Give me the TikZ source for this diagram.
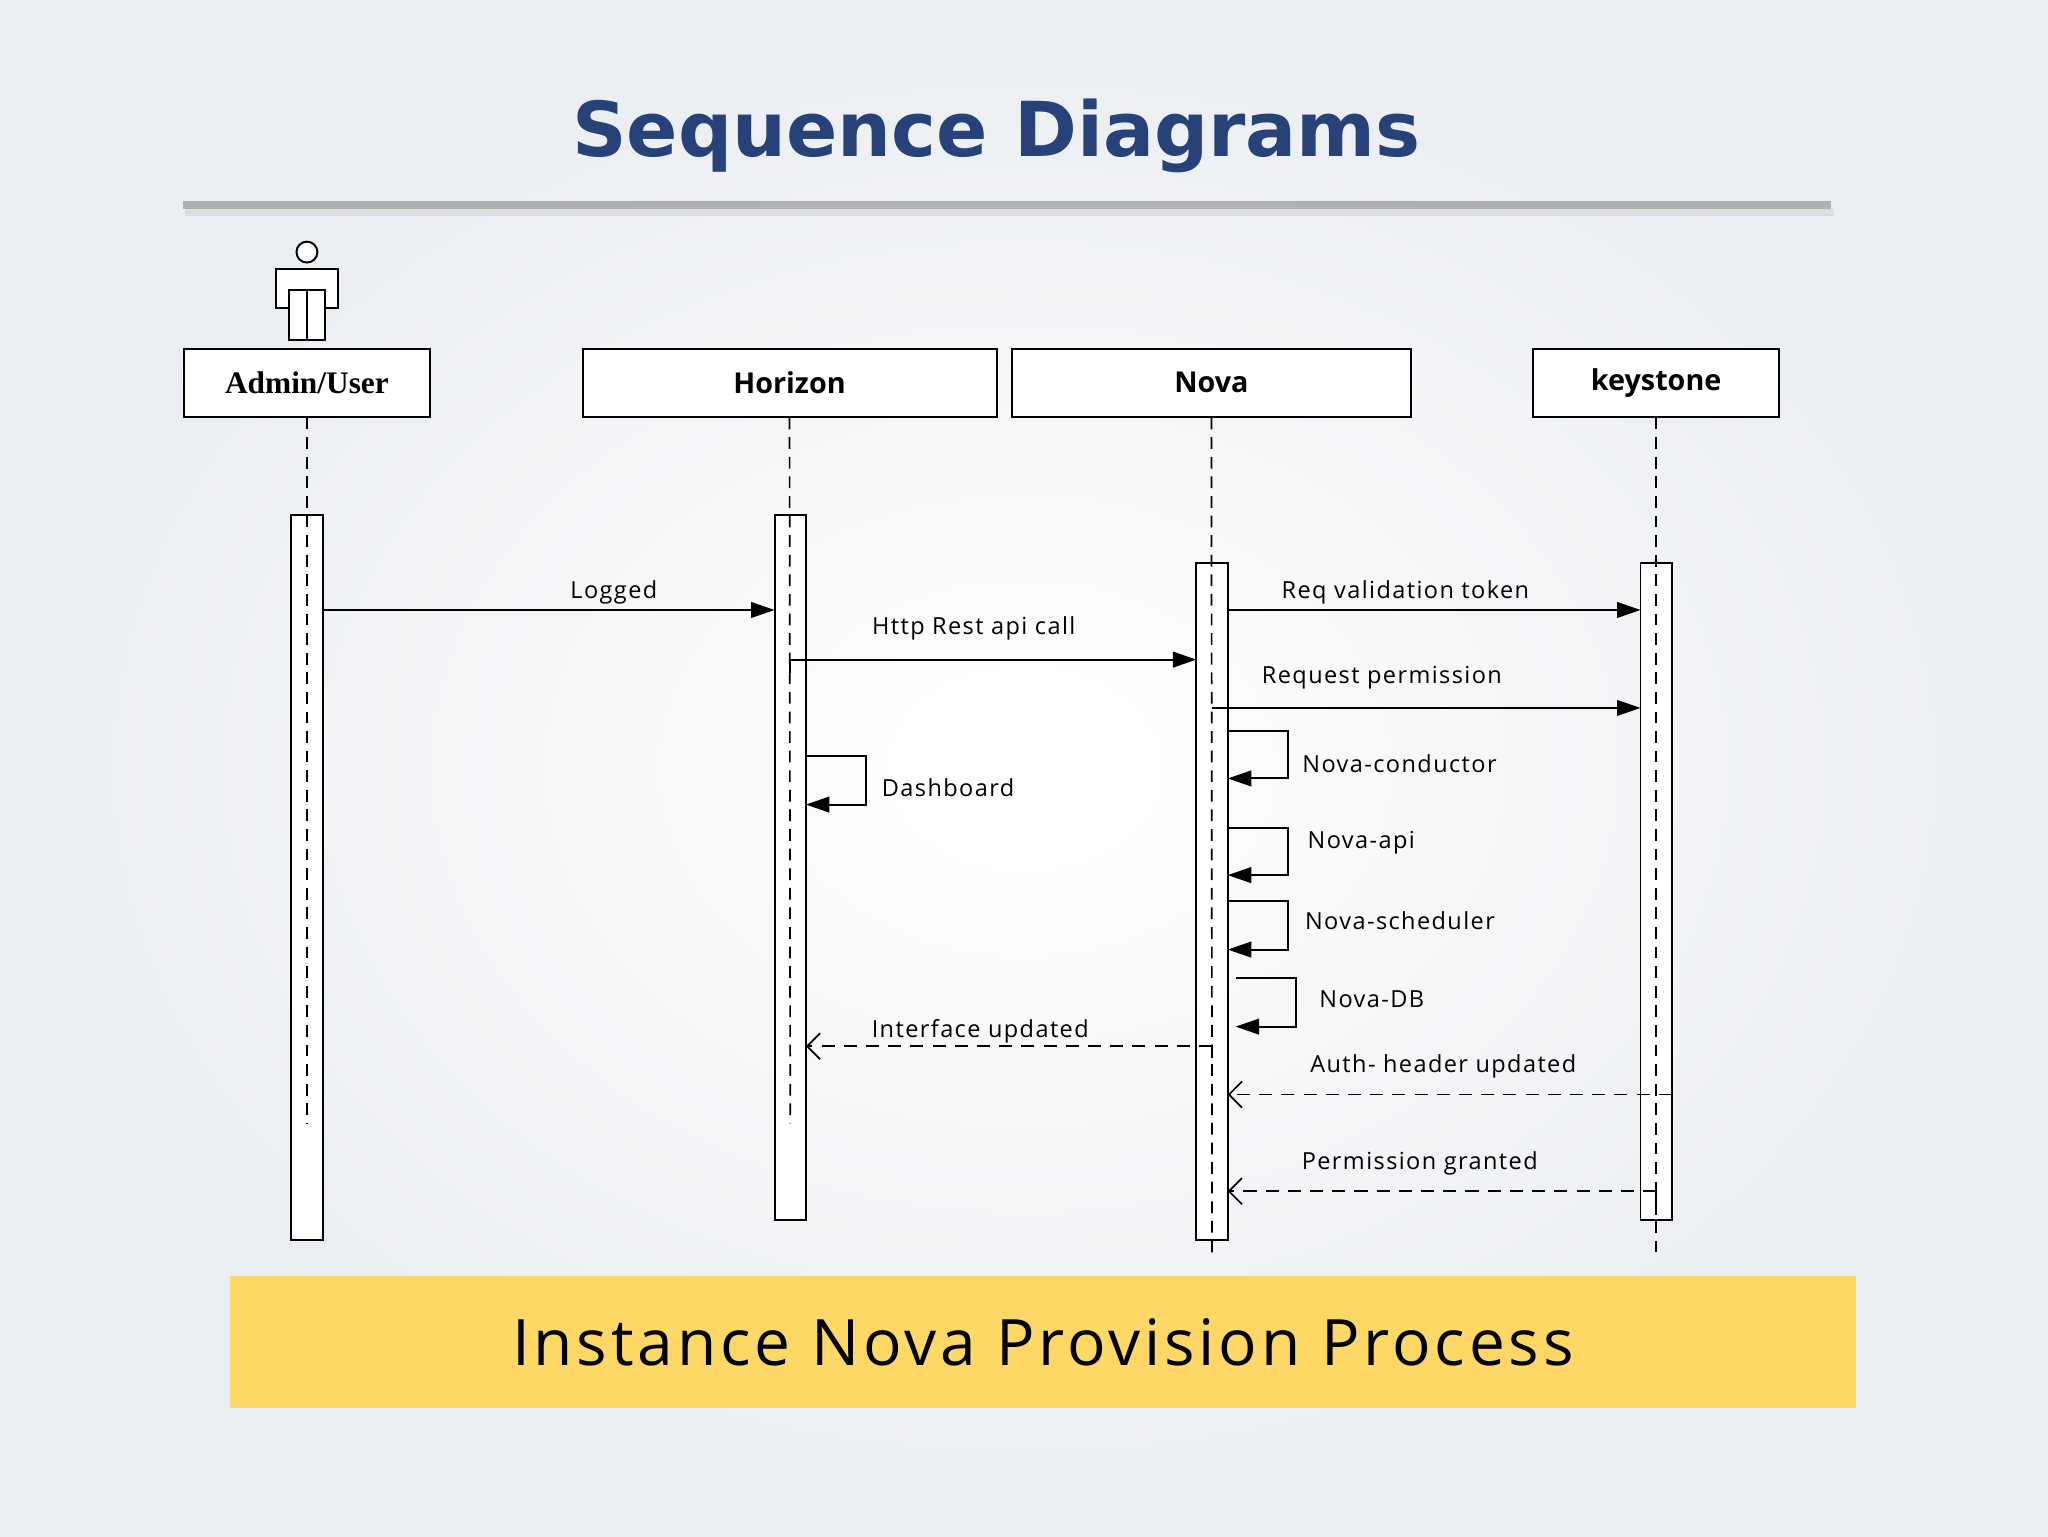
\documentclass[tikz,border=0pt]{standalone}
\usepackage{fontspec}
\setmainfont{Open Sans}
\newfontfamily\lblfont[LetterSpace=6]{Open Sans}
\newfontfamily\titlefont{DejaVu Sans}
\newfontfamily\serifb{Liberation Serif}
\usetikzlibrary{arrows.meta,shadows}
\definecolor{bgedge}{RGB}{234,237,241}
\definecolor{ttl}{RGB}{38,66,120}
\definecolor{ylw}{RGB}{253,216,102}
\tikzset{
 x=1pt,y=-1pt,
 hdr/.style={draw,line width=1.5pt,fill=white,minimum height=52pt,font=\fontsize{22}{24}\selectfont\bfseries,inner sep=0},
 life/.style={line width=1.3pt,dash pattern=on 9pt off 6pt},
 bar/.style={draw,line width=1.5pt,fill=white},
 msg/.style={line width=1.5pt,-{Triangle[length=18pt,width=12pt]}},
 ret/.style={line width=1.3pt,dash pattern=on 10pt off 7pt,-{Straight Barb[length=10pt,width=20pt]}},
 lbl/.style={font=\lblfont\fontsize{18}{20}\selectfont,inner sep=1pt},
}
\begin{document}
\begin{tikzpicture}
\useasboundingbox (0,0) rectangle (1568,1176);
\shade[inner color=white,outer color=bgedge] (0,0) rectangle (1568,1176);
% title
\node[font=\titlefont\fontsize{58}{64}\selectfont\bfseries,text=ttl] (title) at (763,104) {Sequence Diagrams};
\fill[gray!25] (142,160) rectangle (1404,165);
\fill[gray!55!bgedge] (140,154) rectangle (1402,160);
% actor
\coordinate (act) at (235,194);
\draw[line width=1.5pt,fill=white] (235,193) circle (8);
\draw[line width=1.5pt,fill=white] (211,206) rectangle (259,236);
\draw[line width=1.5pt,fill=white] (221,222) rectangle (249,260);
\draw[line width=1.5pt] (235,222) -- (235,260);
% headers
\node[hdr,minimum width=188pt,font=\serifb\fontsize{24}{26}\selectfont\bfseries] (admin) at (235,293) {Admin/User};
\node[hdr,minimum width=317pt] (hor) at (604.5,293) {Horizon};
\node[hdr,minimum width=305pt] (nova) at (927.5,293) {Nova};
\node[hdr,minimum width=188pt] (key) at (1268,293) {keystone};
% activation bars
\draw[bar] (223,394) rectangle (247,949);
\draw[bar] (593,394) rectangle (617,934);
\draw[bar] (916,431) rectangle (940,949);
\draw[bar] (1256,431) rectangle (1280,934);
% lifelines
\coordinate (ae) at (235,860); \coordinate (he) at (605,860);
\coordinate (ne) at (928,960); \coordinate (ke) at (1268,960);
\draw[life] (admin.south) -- (ae);
\draw[life] (hor.south) -- (he);
\draw[life] (nova.south) -- (ne);
\draw[life] (key.south) -- (ke);
% messages
\coordinate (a1) at (247,467); \coordinate (h1) at (593,467);
\draw[msg] (a1) -- (h1) node[lbl,midway,above=3pt,xshift=50pt] {Logged};
\coordinate (h2) at (605,505); \coordinate (n2) at (916,505);
\draw[line width=1.3pt] (605,515) -- (h2);
\draw[msg] (h2) -- (n2) node[lbl,midway,above=13pt,xshift=-15pt] {Http Rest api call};
\coordinate (n3) at (940,467); \coordinate (k3) at (1256,467);
\draw[msg] (n3) -- (k3) node[lbl,midway,above=3pt,xshift=-22pt] {Req validation token};
\coordinate (n4) at (928,542); \coordinate (k4) at (1256,542);
\draw[msg] (n4) -- (k4) node[lbl,midway,above=13pt,xshift=-34pt] {Request permission};
% self messages
\draw[msg] (617,579) -- (663,579) -- (663,616) -- (617,616);
\node[lbl,anchor=west] (dash) at (674,603) {Dashboard};
\draw[msg] (940,560) -- (986,560) -- (986,596) -- (940,596);
\node[lbl,anchor=west] (nc) at (996,585) {Nova-conductor};
\draw[msg] (940,634) -- (986,634) -- (986,670) -- (940,670);
\node[lbl,anchor=west] (na) at (1000,645) {Nova-api};
\draw[msg] (940,690) -- (986,690) -- (986,727) -- (940,727);
\node[lbl,anchor=west] (ns) at (998,705) {Nova-scheduler};
\draw[msg] (946,749) -- (992,749) -- (992,786) -- (946,786);
\node[lbl,anchor=west] (nd) at (1009,765) {Nova-DB};
% returns
\coordinate (n5) at (928,801); \coordinate (h5) at (617,801);
\draw[line width=1.3pt] (928,810) -- (n5);
\draw[ret] (n5) -- (h5) node[lbl,midway,above=1pt,xshift=-22pt] {Interface updated};
\coordinate (k6) at (1280,838); \coordinate (n6) at (940,838);
\draw[ret] (k6) -- (n6) node[lbl,midway,above=11pt,xshift=-5pt] {Auth- header updated};
\coordinate (k7) at (1268,912); \coordinate (n7) at (940,912);
\draw[line width=1.3pt] (1268,912) -- (1268,930);
\draw[ret] (k7) -- (n7) node[lbl,midway,above=11pt,xshift=-17pt] {Permission granted};
% caption
\fill[ylw] (176,977) rectangle (1421,1078);
\node[font=\lblfont\fontsize{49}{53}\selectfont] (cap) at (798.5,1028) {Instance Nova Provision Process};
\end{tikzpicture}
\end{document}
